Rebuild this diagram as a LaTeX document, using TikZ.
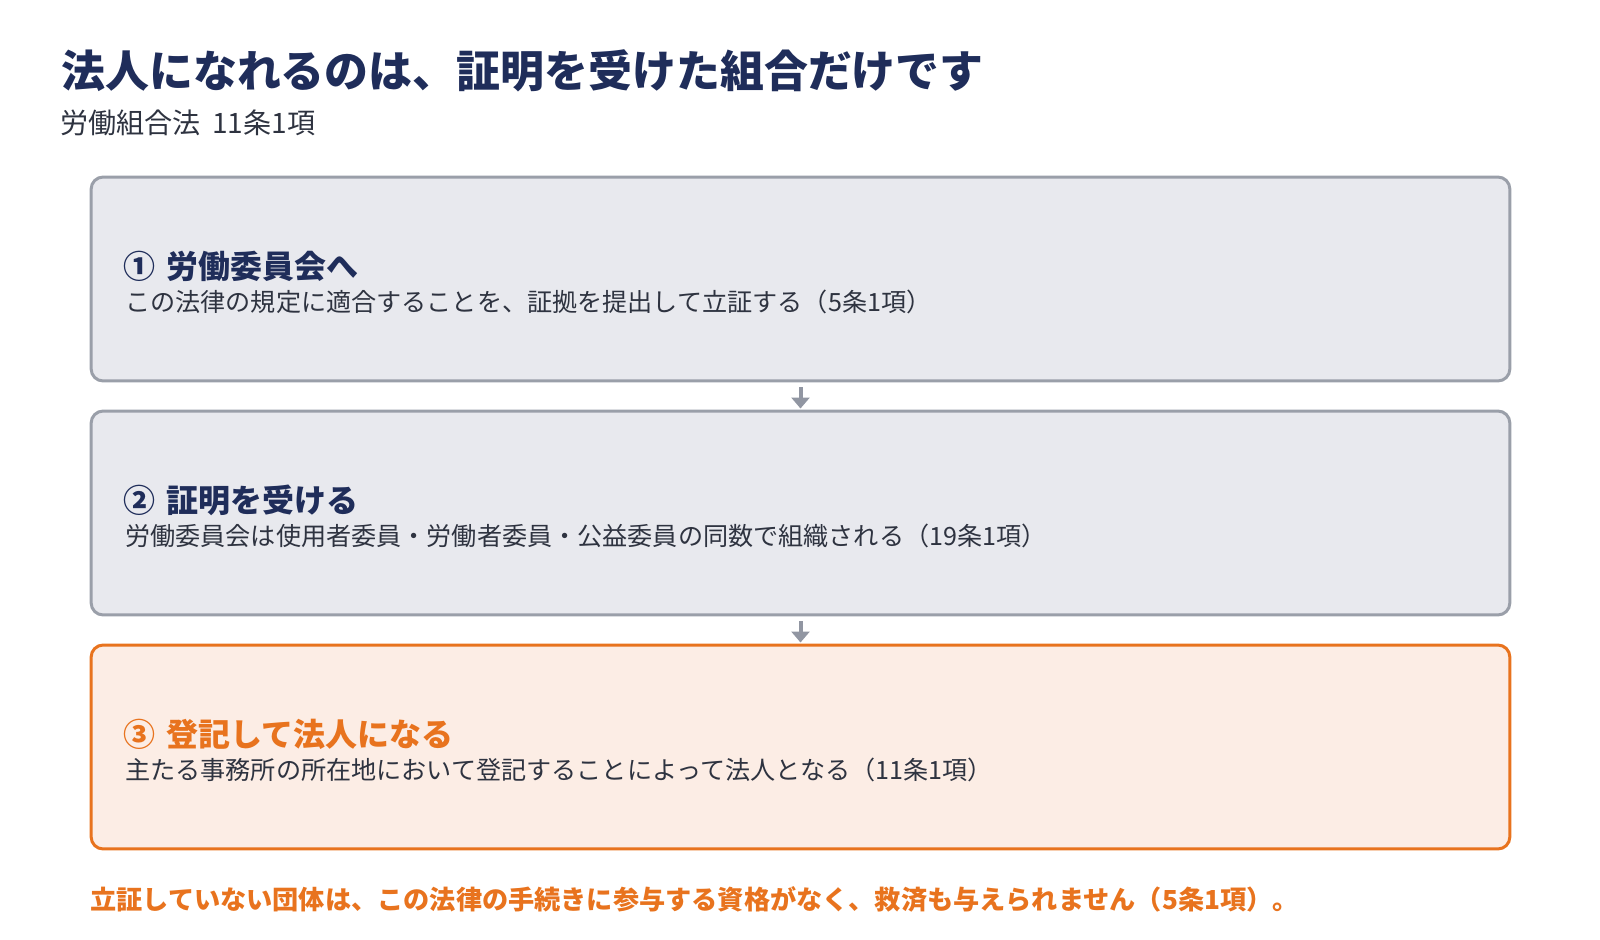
\documentclass[tikz,border=0pt]{standalone}
\usepackage{fontspec}
\setmainfont{Noto Sans CJK JP}
\usetikzlibrary{arrows.meta}

\definecolor{navy}{HTML}{1F2D5A}
\definecolor{inktext}{HTML}{2E3340}
\definecolor{stepgray}{HTML}{9A9FA9}
\definecolor{stepfill}{HTML}{E8E9EE}
\definecolor{legalorange}{HTML}{E8731E}
\definecolor{orangefill}{HTML}{FCEDE5}
\definecolor{arrowgray}{HTML}{9196A2}

\begin{document}
\begin{tikzpicture}[x=0.02cm,y=-0.02cm,
    stepbox/.style={draw=stepgray,fill=stepfill,line width=0.06cm,rounded corners=0.24cm,
        minimum width=28.38cm,minimum height=4.08cm,inner sep=0pt},
    lastbox/.style={stepbox,draw=legalorange,fill=orangefill},
    stephead/.style={anchor=base west,inner sep=0pt,font=\fontsize{18.2pt}{21pt}\selectfont\bfseries,text=navy},
    stepbody/.style={anchor=base west,inner sep=0pt,font=\fontsize{14.3pt}{17pt}\selectfont,text=inktext},
    flowarrow/.style={draw=arrowgray,line width=0.08cm,-{Triangle[width=0.36cm,length=0.22cm]},
        shorten <=0.1cm,shorten >=0.02cm}]

    \useasboundingbox (0,0) rectangle (1600,940);

    % title and source
    \node[anchor=base west,inner sep=0pt,font=\fontsize{25pt}{30pt}\selectfont\bfseries,text=navy]
        (title) at (61,87) {法人になれるのは、証明を受けた組合だけです};
    \node[anchor=base west,inner sep=0pt,font=\fontsize{16pt}{19pt}\selectfont,text=inktext]
        (source) at (60,133) {労働組合法\hspace{0.4em}11条1項};

    % step 1
    \node[stepbox] (s1) at (800.5,279) {};
    \node[stephead] (h1) at (123,278) {①\hspace{0.35em}労働委員会へ};
    \node[stepbody] (t1) at (125,311) {この法律の規定に適合することを、証拠を提出して立証する（5条1項）};

    % step 2
    \node[stepbox] (s2) at (800.5,513) {};
    \node[stephead] (h2) at (123,512) {②\hspace{0.35em}証明を受ける};
    \node[stepbody] (t2) at (125,545) {労働委員会は使用者委員・労働者委員・公益委員の同数で組織される（19条1項）};

    % step 3
    \node[lastbox] (s3) at (800.5,747) {};
    \node[stephead,text=legalorange] (h3) at (123,746) {③\hspace{0.35em}登記して法人になる};
    \node[stepbody] (t3) at (125,779) {主たる事務所の所在地において登記することによって法人となる（11条1項）};

    % flow
    \draw[flowarrow] (s1.south) -- (s2.north);
    \draw[flowarrow] (s2.south) -- (s3.north);

    % note
    \node[anchor=base west,inner sep=0pt,font=\fontsize{14.9pt}{18pt}\selectfont\bfseries,text=legalorange]
        (note) at (90,909) {立証していない団体は、この法律の手続きに参与する資格がなく、救済も与えられません（5条1項）。};

\end{tikzpicture}
\end{document}
